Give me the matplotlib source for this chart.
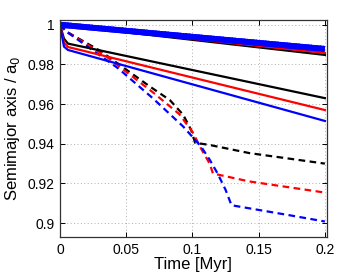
import matplotlib
matplotlib.use("Agg")
import matplotlib.pyplot as plt
import matplotlib.patheffects as pe

plt.rcParams['font.family'] = ['Liberation Sans', 'DejaVu Sans']

# Top (slow) group
top_t = [0.0, 0.2]
top_black = [1.0, 0.9848]
top_red = [1.0, 0.9858]
top_blue = [1.0, 0.9878]

# Solid middle group
mid_t = [0.0, 0.003, 0.006, 0.2]
mid_black = [1.0, 0.993, 0.9905, 0.963]
mid_red = [1.0, 0.991, 0.9888, 0.957]
mid_blue = [1.0, 0.989, 0.9873, 0.9515]

# Dashed group
dash_black_t = [0.0, 0.005, 0.03, 0.068, 0.083, 0.093, 0.099, 0.102, 0.113, 0.143, 0.2]
dash_black = [1.0, 0.9965, 0.987, 0.9688, 0.962, 0.9546, 0.947, 0.9405, 0.9394, 0.9353, 0.930]
dash_red_t = [0.0, 0.005, 0.035, 0.07, 0.09, 0.1, 0.107, 0.113, 0.1155, 0.143, 0.2]
dash_red = [1.0, 0.9965, 0.984, 0.966, 0.955, 0.946, 0.937, 0.930, 0.925, 0.921, 0.9154]
dash_blue_t = [0.0, 0.005, 0.044, 0.07, 0.093, 0.1065, 0.113, 0.119, 0.125, 0.1295, 0.173, 0.2]
dash_blue = [1.0, 0.9965, 0.978, 0.963, 0.9487, 0.9386, 0.932, 0.925, 0.9168, 0.909, 0.904, 0.9008]

xticks = [0, 0.05, 0.1, 0.15, 0.2]
xticklabels = ['0', '0.05', '0.1', '0.15', '0.2']
yticks = [0.9, 0.92, 0.94, 0.96, 0.98, 1.0]
yticklabels = ['0.9', '0.92', '0.94', '0.96', '0.98', '1']

fig = plt.figure(figsize=(3.62, 2.73), dpi=100)
ax = fig.add_axes([0.1657, 0.1319, 0.7373, 0.7948])

lw = 1.6
ax.plot(dash_black_t, dash_black, color='black', lw=lw, dashes=(3, 2))
ax.plot(dash_red_t, dash_red, color='red', lw=lw, dashes=(3, 2))
ax.plot(dash_blue_t, dash_blue, color='blue', lw=lw, dashes=(3, 2))

ax.plot(mid_t, mid_black, color='black', lw=lw)
ax.plot(mid_t, mid_red, color='red', lw=lw)
ax.plot(mid_t, mid_blue, color='blue', lw=lw)

ax.plot(top_t, top_black, color='black', lw=lw)
ax.plot(top_t, top_red, color='red', lw=lw)
ax.plot(top_t, top_blue, color='blue', lw=4.2, solid_capstyle='butt',
        path_effects=[pe.Normal(),
                      pe.withTickedStroke(angle=90, spacing=2.2, length=1.0,
                                          linewidth=1.0)])

ax.set_xlim(0, 0.2015)
ax.set_ylim(0.893, 1.0024)
ax.set_xticks(xticks)
ax.set_xticklabels(xticklabels)
ax.set_yticks(yticks)
ax.set_yticklabels(yticklabels)
ax.tick_params(direction='in', top=True, right=True, length=3.5, width=0.7,
               labelsize=10, colors='black', pad=4)
ax.grid(True, linestyle=(0, (1, 2.5)), color='#b0b0b0', lw=0.7)
for s in ax.spines.values():
    s.set_color('0.2')
    s.set_linewidth(0.9)

ax.set_xlabel('Time [Myr]', fontsize=12, labelpad=0)
ax.set_ylabel('Semimajor axis / a$_0$', fontsize=12, labelpad=4)

fig.savefig('out.png', dpi=100)
